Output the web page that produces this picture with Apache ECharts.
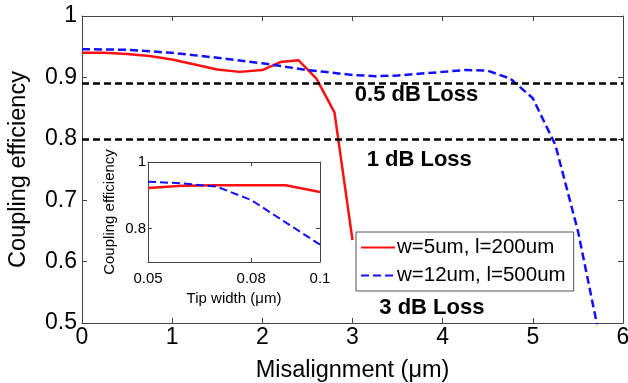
<!DOCTYPE html>
<html>
<head>
<meta charset="utf-8">
<script src="https://cdn.jsdelivr.net/npm/echarts@6/dist/echarts.min.js"></script>
<style>
  html, body { margin: 0; padding: 0; background: #fff; }
  #chart { width: 628px; height: 383px; }
</style>
</head>
<body>
<div id="chart"></div>
<script>
// main plot: coupling efficiency vs misalignment
const seriesNames = ['w=5um, l=200um', 'w=12um, l=500um']
const redX = [0, 0.25, 0.5, 0.75, 1.0, 1.25, 1.5, 1.75, 2.0, 2.2, 2.4, 2.6, 2.8, 3.0]
const redY = [0.940, 0.940, 0.938, 0.935, 0.929, 0.921, 0.913, 0.909, 0.912, 0.925, 0.928, 0.898, 0.843, 0.635]
const blueX = [0, 0.5, 1, 1.5, 2, 2.5, 3, 3.25, 3.5, 4, 4.25, 4.5, 4.75, 5, 5.25, 5.5, 5.75]
const blueY = [0.946, 0.945, 0.940, 0.932, 0.923, 0.912, 0.904, 0.902, 0.903, 0.909, 0.912, 0.911, 0.898, 0.866, 0.790, 0.650, 0.47]
const lossLevels = [0.894, 0.795]
const lossNames = ['0.5 dB Loss', '1 dB Loss', '3 dB Loss']
const lossLabelX = [3.71, 3.74, 3.88]
const lossLabelY = [0.871, 0.765, 0.524]
// inset: coupling efficiency vs tip width
const tipX = [0.05, 0.06, 0.07, 0.08, 0.09, 0.1]
const tipRed = [0.922, 0.929, 0.930, 0.930, 0.930, 0.910]
const tipBlue = [0.941, 0.936, 0.926, 0.886, 0.819, 0.752]
const tipTicks = [0.05, 0.08, 0.1]
const tipYTicks = [0.8, 1]

const font = '"Liberation Sans", Arial, sans-serif'
const axisColor = '#444'
const red = '#ff1010'
const blue = '#1010ff'

const zip = (xs, ys) => xs.map((x, i) => [x, ys[i]])

function boxAxis(gridIndex, pos, base) {
  return Object.assign({
    gridIndex: gridIndex,
    position: pos,
    axisLine: { show: true, onZero: false, lineStyle: { color: axisColor, width: 1 } },
    axisTick: { show: true, inside: true, length: 5, lineStyle: { color: axisColor } },
    axisLabel: { show: false },
    splitLine: { show: false }
  }, base)
}

const chart = echarts.init(document.getElementById('chart'))
chart.setOption({
  animation: false,
  textStyle: { fontFamily: font },
  grid: [
    { left: 82, top: 16, right: 5, bottom: 60, outerBoundsMode: 'none', containLabel: false },
    { left: 148, top: 162, width: 172, height: 100, outerBoundsMode: 'none', containLabel: false }
  ],
  legend: {
    data: seriesNames,
    orient: 'vertical',
    left: 356,
    top: 232,
    padding: [5, 8, 5, 4],
    itemGap: 7,
    itemWidth: 34,
    itemHeight: 14,
    borderColor: '#555',
    borderWidth: 1,
    backgroundColor: '#fff',
    itemStyle: { opacity: 0 },
    textStyle: { fontFamily: font, fontSize: 20.5, color: '#000', padding: [0, 0, 0, -3] }
  },
  xAxis: [
    boxAxis(0, 'bottom', {
      type: 'value', min: 0, max: 6, interval: 1,
      name: 'Misalignment (μm)', nameLocation: 'middle', nameGap: 36,
      nameTextStyle: { fontSize: 23.5, color: '#000' },
      axisLabel: { show: true, fontSize: 23, color: '#000', margin: 3 }
    }),
    boxAxis(0, 'top', { type: 'value', min: 0, max: 6, interval: 1 }),
    boxAxis(1, 'bottom', {
      type: 'value', min: 0.05, max: 0.1,
      name: 'Tip width (μm)', nameLocation: 'middle', nameGap: 29,
      nameTextStyle: { fontSize: 15, color: '#000' },
      axisTick: { show: true, inside: true, length: 4, customValues: tipTicks, lineStyle: { color: axisColor } },
      axisLabel: { show: true, fontSize: 15, color: '#000', margin: 9, customValues: tipTicks }
    }),
    boxAxis(1, 'top', {
      type: 'value', min: 0.05, max: 0.1,
      axisTick: { show: true, inside: true, length: 4, customValues: tipTicks, lineStyle: { color: axisColor } }
    })
  ],
  yAxis: [
    boxAxis(0, 'left', {
      type: 'value', min: 0.5, max: 1, interval: 0.1,
      name: 'Coupling efficiency', nameLocation: 'middle', nameGap: 51,
      nameTextStyle: { fontSize: 23.5, color: '#000' },
      axisLabel: { show: true, fontSize: 23, color: '#000', margin: 5 }
    }),
    boxAxis(0, 'right', { type: 'value', min: 0.5, max: 1, interval: 0.1 }),
    boxAxis(1, 'left', {
      type: 'value', min: 0.7, max: 1,
      name: 'Coupling efficiency', nameLocation: 'middle', nameGap: 31,
      nameTextStyle: { fontSize: 15, color: '#000' },
      axisTick: { show: true, inside: true, length: 4, customValues: tipYTicks, lineStyle: { color: axisColor } },
      axisLabel: { show: true, fontSize: 15, color: '#000', margin: 2, customValues: tipYTicks }
    }),
    boxAxis(1, 'right', {
      type: 'value', min: 0.7, max: 1,
      axisTick: { show: true, inside: true, length: 4, customValues: tipYTicks, lineStyle: { color: axisColor } }
    })
  ],
  series: [
    {
      name: seriesNames[0],
      type: 'line',
      xAxisIndex: 0, yAxisIndex: 0,
      data: zip(redX, redY),
      symbol: 'none',
      lineStyle: { color: red, width: 2.5 },
      itemStyle: { color: red },
      markLine: {
        silent: true,
        symbol: 'none',
        label: { show: false },
        lineStyle: { color: '#000', type: [7, 4], width: 2.5 },
        data: lossLevels.map(v => ({ yAxis: v }))
      }
    },
    {
      name: seriesNames[1],
      type: 'line',
      xAxisIndex: 0, yAxisIndex: 0,
      data: zip(blueX, blueY),
      symbol: 'none',
      lineStyle: { color: blue, width: 2.5, type: [8, 4] },
      itemStyle: { color: blue }
    },
    {
      name: seriesNames[0],
      type: 'line',
      xAxisIndex: 2, yAxisIndex: 2,
      data: zip(tipX, tipRed),
      symbol: 'none',
      lineStyle: { color: red, width: 2.5 },
      itemStyle: { color: red }
    },
    {
      name: seriesNames[1],
      type: 'line',
      xAxisIndex: 2, yAxisIndex: 2,
      data: zip(tipX, tipBlue),
      symbol: 'none',
      lineStyle: { color: blue, width: 2, type: [8, 4] },
      itemStyle: { color: blue }
    }
  ]
})

// loss annotations, placed through the main grid's scales
chart.setOption({
  graphic: lossNames.map((n, i) => {
    const p = chart.convertToPixel({ gridIndex: 0 }, [lossLabelX[i], lossLabelY[i]])
    return {
      type: 'text',
      x: p[0],
      y: p[1],
      z: 10,
      style: {
        text: n,
        fill: '#000',
        font: 'bold 22px ' + font,
        align: 'center',
        verticalAlign: 'middle'
      }
    }
  })
})
</script>
</body>
</html>
